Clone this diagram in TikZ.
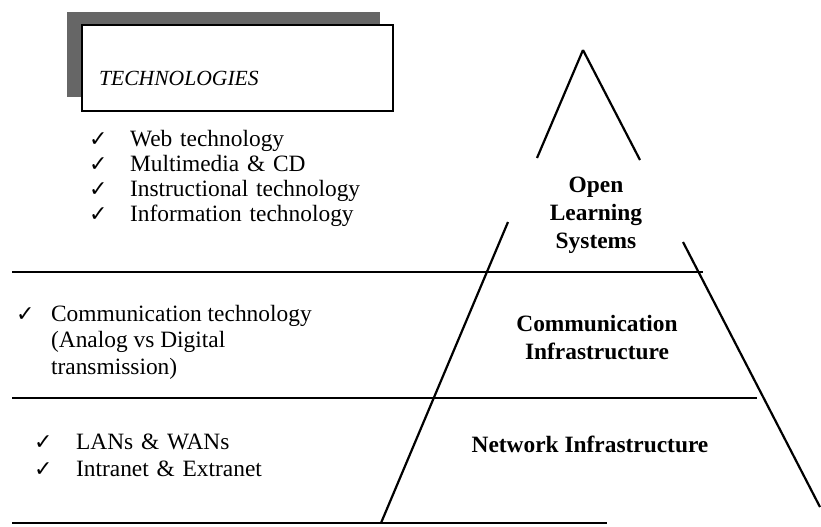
\documentclass[tikz,border=0pt]{standalone}
\usepackage{fontspec}
\setmainfont{Liberation Serif}
\newfontfamily\chkfont{DejaVu Sans}
\usetikzlibrary{positioning}
\newcommand{\tick}[1]{\makebox[#1][l]{\chkfont\fontsize{11}{11}\selectfont ✓}}

\begin{document}
\begin{tikzpicture}[x=0.5pt, y=-0.5pt, line width=1.1pt,
	item/.style={font=\fontsize{11.7}{12.4}\selectfont, text width=150pt, align=left, inner sep=0pt, text height=8pt, text depth=2.5pt},
	block/.style={font=\fontsize{11.7}{13.25}\selectfont, align=left, inner sep=0pt},
	layer/.style={font=\bfseries\fontsize{11.7}{14}\selectfont, align=center, inner sep=0pt}]
	\useasboundingbox (0,0) rectangle (821,526);

	% title box with its shadow
	\fill[black!60] (67,12) rectangle (380,97);
	\draw[fill=white] (82,25) rectangle (393,111);
	\node[font=\itshape\fontsize{10.8}{12}\selectfont, inner sep=0pt, anchor=base west] (tech) at (98,85) {TECHNOLOGIES};

	% technology items
	\node[item, anchor=base west] (web) at (88,146) {\tick{20.5pt}Web technology};
	\node[item] (multi) [below of=web, node distance=12.5pt] {\tick{20.5pt}Multimedia \& CD};
	\node[item] (instr) [below of=multi, node distance=12.5pt] {\tick{20.5pt}Instructional technology};
	\node[item] (info) [below of=instr, node distance=12.5pt] {\tick{20.5pt}Information technology};

	\node[block, anchor=base west] (comm) at (15,374) {\tick{17.5pt}Communication technology\\\hspace*{17.5pt}(Analog vs Digital\\\hspace*{17.5pt}transmission)};

	\node[item, anchor=base west] (lan) at (33,449) {\tick{21pt}LANs \& WANs};
	\node[item] (net) [below of=lan, node distance=13.5pt] {\tick{21pt}Intranet \& Extranet};

	% the three bands
	\draw (12,272) -- (703,272);
	\draw (12,398) -- (757,398);
	\draw (12,523) -- (607,523);

	% pyramid sides
	\coordinate (apex) at (583,50);
	\draw (apex) -- (537,158);
	\draw (apex) -- (640,160);
	\draw (508,222) -- (381,523);
	\draw (683,242) -- (820,507);

	\node[layer] (ols) at (596,215) {Open\\Learning\\Systems};
	\node[layer] (ci) at (597,338) {Communication\\Infrastructure};
	\node[layer, anchor=base] (ni) at (590,452) {Network Infrastructure};
\end{tikzpicture}
\end{document}
